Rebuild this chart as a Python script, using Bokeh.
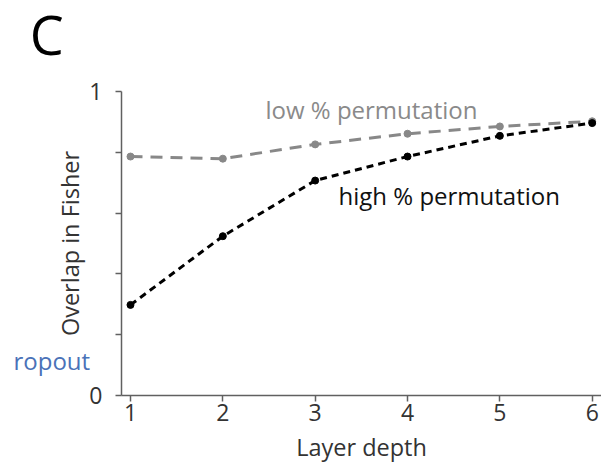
from bokeh.plotting import figure
from bokeh.models import Range1d, FixedTicker, CustomJSTickFormatter, Label
from bokeh.embed import file_html
from bokeh.resources import INLINE

# data
layers = [1, 2, 3, 4, 5, 6]
low_perm = [0.786, 0.779, 0.826, 0.861, 0.885, 0.902]
high_perm = [0.298, 0.524, 0.707, 0.786, 0.854, 0.896]
y_ticks = [0, 0.2, 0.4, 0.6, 0.8, 1.0]

FONT = "Open Sans"
X0, X1 = 0.9025, 6.1007

p = figure(width=601, height=464, output_backend="svg", toolbar_location=None,
           x_range=Range1d(-0.4078, X1), y_range=Range1d(-0.2270, 1.2993),
           min_border_left=0, min_border_right=0, min_border_top=0, min_border_bottom=0)
p.outline_line_color = None
p.xgrid.visible = False
p.ygrid.visible = False
p.background_fill_color = "white"
p.border_fill_color = "white"

for ax in (p.xaxis[0], p.yaxis[0]):
    ax.axis_line_color = "#606060"
    ax.axis_line_width = 1.5
    ax.major_tick_line_color = "#606060"
    ax.major_tick_line_width = 1.5
    ax.major_tick_in = 0
    ax.major_tick_out = 6
    ax.minor_tick_line_color = None
    ax.major_label_text_font = FONT
    ax.major_label_text_font_size = "23px"
    ax.major_label_text_color = "#333333"
    ax.axis_label_text_font = FONT
    ax.axis_label_text_font_size = "23.5px"
    ax.axis_label_text_font_style = "normal"
    ax.axis_label_text_color = "#333333"

p.xaxis.fixed_location = 0
p.xaxis.bounds = (X0, X1)
p.xaxis.ticker = FixedTicker(ticks=layers)
p.xaxis.axis_label = "Layer depth"
p.xaxis.major_label_standoff = 3
p.xaxis.axis_label_standoff = 6

p.yaxis.fixed_location = X0
p.yaxis.bounds = (0, 1)
p.yaxis.ticker = FixedTicker(ticks=y_ticks)
p.yaxis.formatter = CustomJSTickFormatter(code="return (Math.abs(tick) < 1e-9 || Math.abs(tick - 1) < 1e-9) ? String(Math.round(tick)) : '';")
p.yaxis.axis_label = "Overlap in Fisher"
p.yaxis.major_label_standoff = 13
p.yaxis.axis_label_standoff = 0

p.line(layers, low_perm, line_color="#888888", line_width=3, line_dash="12 8")
p.scatter(layers, low_perm, size=7, color="#888888")
p.line(layers, high_perm, line_color="black", line_width=3, line_dash="7 5")
p.scatter(layers, high_perm, size=7, color="black")

p.add_layout(Label(x=2.462, y=0.940, text="low % permutation", text_font=FONT,
                   text_font_size="24px", text_color="#8a8a8a", text_baseline="alphabetic"))
p.add_layout(Label(x=3.253, y=0.658, text="high % permutation", text_font=FONT,
                   text_font_size="24px", text_color="#111111", text_baseline="alphabetic"))
p.add_layout(Label(x=-0.267, y=0.115, text="ropout", text_font=FONT,
                   text_font_size="24px", text_color="#4a72b8", text_baseline="alphabetic"))
p.add_layout(Label(x=-0.092, y=1.188, text="C", text_font=FONT,
                   text_font_size="54px", text_color="black", text_baseline="alphabetic"))

open("out.html", "w").write(file_html(p, INLINE))
